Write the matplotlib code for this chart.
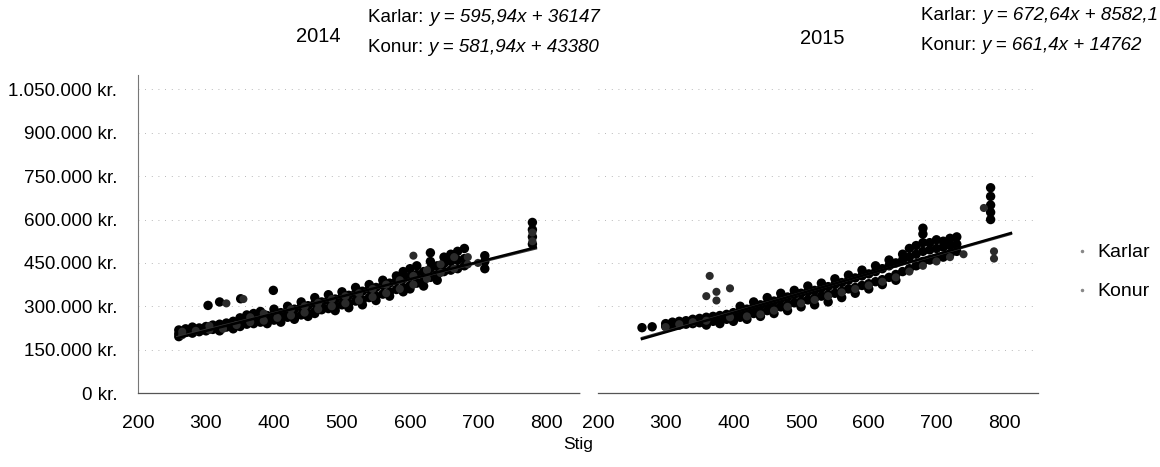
import matplotlib
matplotlib.use("Agg")
import matplotlib.pyplot as plt
import matplotlib.text as mtext
from matplotlib.lines import Line2D

plt.rcParams['font.family'] = ['Liberation Sans', 'DejaVu Sans']

# ---------------- data (salary in thousand kr.) ----------------
years = ["2014", "2015"]
series_names = ["Karlar", "Konur"]

k14_x = [260, 260, 260, 270, 270, 280, 280, 280, 290, 290, 300, 300, 300, 310, 310, 320, 320, 320,
         330, 330, 340, 340, 340, 350, 350, 350, 360, 360, 360, 370, 370, 370, 380, 380, 380,
         390, 390, 390, 400, 400, 400, 410, 410, 410, 420, 420, 420, 430, 430, 430, 440, 440, 440,
         450, 450, 450, 460, 460, 460, 460, 470, 470, 470, 480, 480, 480, 490, 490, 490,
         500, 500, 500, 510, 510, 510, 520, 520, 520, 530, 530, 530, 540, 540, 540, 550, 550, 550,
         560, 560, 560, 570, 570, 570, 580, 580, 580, 590, 590, 590, 590, 600, 600, 600, 600,
         610, 610, 610, 620, 620, 620, 630, 630, 630, 630, 640, 640, 640, 650, 650, 650,
         660, 660, 660, 670, 670, 670, 680, 680, 680, 710, 710, 710, 780, 780, 780, 780,
         303, 320, 351, 399]
k14_y = [205, 218, 195, 210, 222, 207, 220, 228, 212, 225, 215, 230, 222, 220, 235, 225, 238, 215,
         228, 242, 232, 248, 222, 230, 245, 260, 238, 252, 270, 240, 258, 275, 245, 262, 282,
         250, 268, 240, 252, 272, 290, 258, 278, 245, 262, 285, 300, 265, 290, 255, 270, 298, 315,
         275, 302, 265, 282, 310, 330, 275, 288, 315, 300, 292, 320, 340, 298, 325, 285,
         305, 332, 350, 310, 338, 295, 318, 345, 365, 322, 352, 305, 330, 358, 375, 335, 365, 320,
         342, 372, 390, 350, 380, 335, 358, 388, 405, 365, 395, 350, 420, 372, 402, 360, 430,
         380, 410, 440, 390, 420, 370, 400, 430, 455, 485, 410, 440, 390, 420, 448, 470,
         425, 455, 480, 430, 460, 490, 440, 465, 500, 430, 455, 475, 515, 540, 565, 590,
         303, 315, 326, 355]

w14_x = [265, 265, 285, 305, 305, 325, 345, 365, 365, 385, 385, 405, 425, 425, 445, 445,
         465, 465, 485, 485, 505, 505, 525, 525, 545, 545, 565, 565, 585, 585, 605, 605, 605,
         625, 625, 645, 645, 665, 665, 685, 685, 700, 780, 780, 330, 355]
w14_y = [200, 212, 215, 218, 232, 222, 235, 245, 262, 250, 275, 260, 268, 290, 278, 300,
         290, 312, 300, 325, 310, 335, 320, 345, 332, 360, 345, 375, 360, 390, 375, 405, 475,
         395, 425, 415, 445, 430, 470, 445, 470, 450, 525, 555, 310, 325]

k15_x = [265, 280, 300, 300, 310, 310, 320, 320, 330, 330, 340, 340, 350, 350, 360, 360, 360,
         370, 370, 380, 380, 380, 390, 390, 400, 400, 400, 410, 410, 410, 420, 420, 420,
         430, 430, 430, 440, 440, 440, 450, 450, 450, 460, 460, 460, 470, 470, 470, 480, 480, 480,
         490, 490, 490, 500, 500, 500, 510, 510, 510, 520, 520, 520, 530, 530, 530, 540, 540, 540,
         550, 550, 550, 560, 560, 560, 570, 570, 570, 580, 580, 580, 590, 590, 590, 600, 600, 600,
         610, 610, 610, 620, 620, 620, 630, 630, 630, 640, 640, 640, 650, 650, 650, 660, 660, 660,
         670, 670, 670, 680, 680, 680, 680, 680, 690, 690, 690, 700, 700, 700, 710, 710, 710,
         720, 720, 720, 730, 730, 730, 780, 780, 780, 780, 780]
k15_y = [226, 229, 230, 240, 232, 245, 235, 248, 238, 250, 240, 255, 243, 258, 245, 262, 235,
         248, 265, 252, 268, 240, 255, 272, 258, 278, 248, 262, 282, 300, 268, 290, 255,
         275, 298, 315, 280, 305, 265, 285, 310, 330, 292, 318, 275, 298, 325, 345, 305, 332, 285,
         312, 340, 355, 318, 345, 298, 322, 350, 370, 328, 355, 305, 335, 362, 380, 340, 368, 315,
         345, 375, 395, 352, 382, 330, 360, 390, 408, 365, 398, 345, 372, 405, 425, 378, 412, 360,
         385, 420, 440, 392, 430, 375, 400, 440, 460, 410, 450, 390, 420, 460, 480, 430, 470, 500,
         440, 480, 510, 455, 490, 520, 550, 570, 460, 495, 520, 465, 500, 530, 470, 505, 525,
         480, 510, 535, 490, 515, 540, 600, 625, 650, 680, 710]

w15_x = [300, 320, 340, 360, 360, 365, 375, 375, 395, 395, 420, 440, 460, 480, 500, 520,
         540, 560, 580, 600, 620, 640, 660, 680, 700, 720, 740, 770, 785, 785]
w15_y = [228, 238, 245, 250, 335, 405, 320, 350, 262, 362, 265, 272, 285, 298, 310, 322,
         335, 348, 360, 372, 385, 400, 420, 440, 455, 470, 480, 640, 465, 490]

# linear trend lines: slope, intercept (kr.), x-range
trend_k14 = (595.94, 36147)
trend_w14 = (581.94, 43380)
trend_k15 = (672.64, 8582.1)
trend_w15 = (661.4, 14762)
trend_range14 = (258, 785)
trend_range15 = (265, 810)

eq_k14 = "y = 595,94x + 36147"
eq_w14 = "y = 581,94x + 43380"
eq_k15 = "y = 672,64x + 8582,1"
eq_w15 = "y = 661,4x + 14762"

x_ticks = [200, 300, 400, 500, 600, 700, 800]
y_ticks = [0, 150000, 300000, 450000, 600000, 750000, 900000, 1050000]
y_tick_labels = ["0 kr.", "150.000 kr.", "300.000 kr.", "450.000 kr.", "600.000 kr.",
                 "750.000 kr.", "900.000 kr.", "1.050.000 kr."]

# ---------------- figure ----------------
W, H = 1160, 467
fig = plt.figure(figsize=(W / 100, H / 100), dpi=100)

def px_ax(x0, x1, ytop, ybot):
    return [x0 / W, 1 - ybot / H, (x1 - x0) / W, (ybot - ytop) / H]

ax1 = fig.add_axes(px_ax(138, 580, 75, 393))
ax2 = fig.add_axes(px_ax(598, 1038, 75, 393))

col_k = "#000000"
col_w = "#2a2a2a"

panels = [
    (ax1, k14_x, k14_y, w14_x, w14_y, trend_k14, trend_w14, trend_range14),
    (ax2, k15_x, k15_y, w15_x, w15_y, trend_k15, trend_w15, trend_range15),
]
for ax, kx, ky, wx, wy, tk, tw, tr in panels:
    ax.scatter(kx, [v * 1000 for v in ky], s=46, color=col_k, edgecolors='none', zorder=3)
    ax.scatter(wx, [v * 1000 for v in wy], s=34, color=col_w, edgecolors='none', zorder=3)
    for (a, b), c in ((tw, "#333333"), (tk, "#000000")):
        ax.plot(list(tr), [a * t + b for t in tr], color=c, lw=1.8, zorder=4)
    ax.set_xlim(200, 850)
    ax.set_ylim(0, 1100000)
    ax.set_xticks(x_ticks)
    ax.set_xticklabels([str(t) for t in x_ticks], fontsize=14)
    ax.set_yticks(y_ticks)
    ax.grid(axis='y', color='#a0a0a0', lw=0.6, linestyle=(0, (1, 7)))
    ax.set_axisbelow(True)
    for s in ('top', 'right'):
        ax.spines[s].set_visible(False)
    ax.spines['bottom'].set_color('#555555')
    ax.spines['bottom'].set_linestyle((0, (2, 1)))
    ax.spines['bottom'].set_linewidth(0.9)
    ax.tick_params(length=0, pad=16)

ax1.set_yticklabels(y_tick_labels, fontsize=13.6)
ax1.tick_params(axis='y', pad=15)
ax1.spines['left'].set_color('#777777')
ax1.spines['left'].set_linestyle((0, (1, 1)))
ax1.spines['left'].set_linewidth(0.8)
ax2.set_yticklabels([])
ax2.spines['left'].set_visible(False)

# titles and equations
fs = 13.5
fig.text(318 / W, 1 - 36 / H, years[0], ha='center', va='center', fontsize=14.5)
fig.text(822 / W, 1 - 38 / H, years[1], ha='center', va='center', fontsize=14.5)

t1 = fig.text(368 / W, 1 - 17 / H, series_names[0] + ": ", ha='left', va='center', fontsize=fs)
t2 = fig.text(368 / W, 1 - 48 / H, series_names[1] + ": ", ha='left', va='center', fontsize=fs)
t3 = fig.text(921 / W, 1 - 15 / H, series_names[0] + ": ", ha='left', va='center', fontsize=fs)
t4 = fig.text(921 / W, 1 - 45 / H, series_names[1] + ": ", ha='left', va='center', fontsize=fs)
for t, e in ((t1, eq_k14), (t2, eq_w14), (t3, eq_k15), (t4, eq_w15)):
    fig.add_artist(mtext.Annotation(e, xy=(1, 0.5), xycoords=t, va='center', ha='left',
                                    fontsize=fs, style='italic'))

fig.text(578 / W, 1 - 445 / H, "Stig", ha='center', va='center', fontsize=12.5)

leg_handles = [Line2D([], [], marker='o', ms=1.5, lw=0, color='#888888'),
               Line2D([], [], marker='o', ms=1.5, lw=0, color='#888888')]
fig.legend(leg_handles, series_names, loc='center left',
           bbox_to_anchor=(1076 / W, 1 - 272 / H), frameon=False, fontsize=14,
           borderaxespad=0, borderpad=0,
           handlelength=0.6, handletextpad=0.5, labelspacing=1.1)

fig.savefig("out.png", dpi=100)
